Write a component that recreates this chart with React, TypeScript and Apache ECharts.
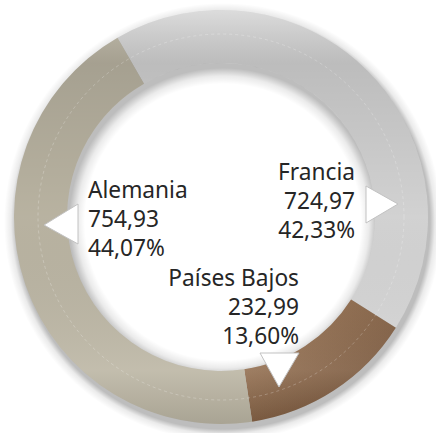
import React, { useEffect, useRef } from "react";
import * as echarts from "echarts";

const countries = ["Francia", "Países Bajos", "Alemania"];
const values = [724.97, 232.99, 754.93];
const sliceColors = ["#d6d6d6", "#8b6647", "#bcb6a4"];

const CX = 221;
const CY = 217;
const R_IN = 154;
const R_OUT = 207;

function fmt(n: number): string {
  return n.toFixed(2).replace(".", ",");
}

// largest remainder percentages (2 decimals) so they add up to 100
function percents(vals: number[]): number[] {
  const total = vals.reduce((a, b) => a + b, 0);
  const digits = 100;
  const target = 100 * digits;
  const raw = vals.map((v) => (v / total) * target);
  const seats = raw.map((r) => Math.floor(r));
  let left = target - seats.reduce((a, b) => a + b, 0);
  const rem = raw.map((r, i) => ({ i, r: r - seats[i] })).sort((a, b) => b.r - a.r);
  for (let k = 0; k < rem.length && left > 0; k++, left--) seats[rem[k].i] += 1;
  return seats.map((s) => s / digits);
}

export default function App() {
  const ref = useRef<HTMLDivElement>(null);
  useEffect(() => {
    if (!ref.current) return;
    const chart = echarts.init(ref.current, undefined, { renderer: "svg" });
    const pct = percents(values);
    const labelText = (i: number) => `${countries[i]}\n${fmt(values[i])}\n${fmt(pct[i])}%`;
    const font = "22.7px 'Noto Sans', sans-serif";
    const triStyle = { fill: "#ffffff", stroke: "#c2c2c2", lineWidth: 1 };

    const brown = new echarts.graphic.LinearGradient(0, 0, 1, 1, [
      { offset: 0, color: "#a5805f" },
      { offset: 1, color: "#6a4930" },
    ]);
    const colors = sliceColors.map((c, i) => (i === 1 ? brown : c));

    const shade = new echarts.graphic.LinearGradient(
      0,
      CY - R_OUT,
      0,
      CY + R_OUT,
      [
        { offset: 0, color: "rgba(255,255,255,0.15)" },
        { offset: 0.13, color: "rgba(0,0,0,0.12)" },
        { offset: 0.5, color: "rgba(0,0,0,0.02)" },
        { offset: 0.87, color: "rgba(255,255,255,0.10)" },
        { offset: 1, color: "rgba(0,0,0,0.10)" },
      ],
      true
    );

    const SH_R = R_OUT + 12;
    const shadowGrad = new echarts.graphic.RadialGradient(
      CX + 2,
      CY + 5,
      SH_R,
      [
        { offset: 0, color: "rgba(0,0,0,0)" },
        { offset: (R_IN - 16) / SH_R, color: "rgba(0,0,0,0)" },
        { offset: (R_IN - 8) / SH_R, color: "rgba(0,0,0,0.08)" },
        { offset: R_IN / SH_R, color: "rgba(0,0,0,0.26)" },
        { offset: R_OUT / SH_R, color: "rgba(0,0,0,0.26)" },
        { offset: (R_OUT + 5) / SH_R, color: "rgba(0,0,0,0.08)" },
        { offset: 1, color: "rgba(0,0,0,0)" },
      ],
      true
    );

    chart.setOption({
      animation: false,
      series: [
        {
          type: "pie",
          center: [CX, CY],
          radius: [R_IN, R_OUT],
          startAngle: 120,
          clockwise: true,
          z: 2,
          label: { show: false },
          labelLine: { show: false },
          emphasis: { disabled: true },
          data: countries.map((name, i) => ({
            name,
            value: values[i],
            itemStyle: { color: colors[i] },
          })),
        },
        {
          type: "pie",
          center: [CX, CY],
          radius: [R_IN, R_OUT],
          silent: true,
          z: 3,
          label: { show: false },
          labelLine: { show: false },
          data: [{ value: 1 }],
          itemStyle: { color: shade },
        },
      ],
      graphic: [
        {
          type: "circle",
          z: 0,
          silent: true,
          shape: { cx: CX + 2, cy: CY + 5, r: SH_R },
          style: { fill: shadowGrad },
        },
        {
          type: "circle",
          z: 10,
          silent: true,
          shape: { cx: CX, cy: CY, r: 183 },
          style: { fill: "none", stroke: "rgba(255,255,255,0.4)", lineWidth: 0.6, lineDash: [3, 3] },
        },
        {
          type: "polygon",
          z: 10,
          shape: { points: [[CX + 145, CY - 31], [CX + 145, CY + 6], [CX + 177, CY - 13]] },
          style: triStyle,
        },
        {
          type: "polygon",
          z: 10,
          shape: { points: [[CX - 143, CY - 13], [CX - 143, CY + 27], [CX - 177, CY + 8]] },
          style: triStyle,
        },
        {
          type: "polygon",
          z: 10,
          shape: { points: [[CX + 39, CY + 136], [CX + 78, CY + 136], [CX + 58, CY + 170]] },
          style: triStyle,
        },
        {
          type: "text",
          z: 11,
          x: CX + 134,
          y: CY - 60,
          style: { text: labelText(0), font, fill: "#262626", align: "right", verticalAlign: "top", lineHeight: 29 },
        },
        {
          type: "text",
          z: 11,
          x: CX + 78,
          y: CY + 46,
          style: { text: labelText(1), font, fill: "#262626", align: "right", verticalAlign: "top", lineHeight: 29 },
        },
        {
          type: "text",
          z: 11,
          x: CX - 133,
          y: CY - 42,
          style: { text: labelText(2), font, fill: "#262626", align: "left", verticalAlign: "top", lineHeight: 29 },
        },
      ],
    });
    return () => chart.dispose();
  }, []);
  return (
    <div
      ref={ref}
      style={{ position: "absolute", left: 0, top: 0, width: 436, height: 433, background: "#ffffff" }}
    />
  );
}
